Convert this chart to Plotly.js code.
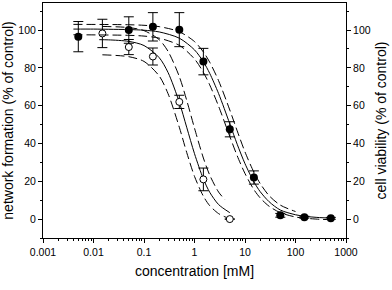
<!DOCTYPE html>
<html>
<head>
<meta charset="utf-8">
<script src="https://cdn.plot.ly/plotly-3.0.1.min.js"></script>
<style>html,body{margin:0;padding:0;background:#fff;}#chart{width:392px;height:290px;}</style>
</head>
<body>
<div id="chart"></div>
<script>
const concViability = [0.005, 0.05, 0.15, 0.5, 1.5, 5, 15, 50, 150, 500];
const viability = [96.5, 100, 101.7, 100.2, 83.3, 47.5, 22, 2, 1, 0.4];
const viabilityErr = [8, 7, 7.5, 9, 7, 4, 3.5, 1, 0.5, 0.5];

const concNetwork = [0.015, 0.05, 0.15, 0.5, 1.5, 5];
const network = [98.2, 91, 86, 62, 21, 0];
const networkErr = [7.5, 4, 4.5, 3.5, 6, 0];

// Fitted curves and confidence bands
const viabFitX = [0.004, 0.01, 0.02, 0.05, 0.1, 0.2, 0.5, 1, 1.5, 2, 3, 5, 7, 10, 15, 20, 30, 50, 100, 150, 300, 500];
const viabFitY = [100.5, 100.5, 100.4, 100.25, 99.9, 99.0, 95.7, 89.5, 83.2, 77.1, 66.4, 50.4, 39.6, 29.3, 19.7, 14.5, 9.2, 4.8, 2.3, 1.5, 0.8, 0.55];
const viabUpX = [0.004, 0.05, 0.1, 0.2, 0.5, 1, 1.5, 2, 3, 5, 7, 10, 15, 20, 30, 50, 100];
const viabUpY = [103, 102.8, 102.5, 101.8, 99.1, 93.9, 88.4, 83.0, 73.2, 57.7, 46.7, 35.5, 24.8, 18.8, 12.4, 7.4, 4.0];
const viabLoX = [0.004, 0.05, 0.1, 0.2, 0.5, 1, 1.5, 2, 3, 5, 7, 10, 15, 20, 30, 50, 100, 150, 300, 500];
const viabLoY = [97.5, 97.2, 96.8, 95.7, 91.9, 84.7, 77.6, 71.0, 59.7, 43.7, 33.5, 24.1, 15.6, 11.2, 6.8, 3.4, 1.1, 0.5, -0.1, -0.3];

const netFitX = [0.013, 0.02, 0.05, 0.1, 0.2, 0.3, 0.5, 0.7, 1, 1.5, 2, 3, 5];
const netFitY = [94.9, 94.8, 94.0, 91.8, 85.4, 77.5, 61.8, 48.6, 34.6, 21.2, 14.2, 7.7, 3.4];
const netUpX = [0.015, 0.05, 0.1, 0.2, 0.3, 0.5, 0.7, 1, 1.5, 2, 3, 4];
const netUpY = [101.9, 101.3, 99.7, 94.9, 88.7, 75.4, 62.9, 48.1, 32.3, 23.3, 14.3, 10.3];
const netLoX = [0.015, 0.05, 0.1, 0.2, 0.3, 0.5, 0.7, 1, 1.5, 2, 3, 4, 4.8];
const netLoY = [86.9, 85.9, 83.4, 75.7, 66.3, 48.6, 35.3, 22.6, 12.1, 7.1, 2.9, 1.2, 0.4];

const xTickVals = [0.001, 0.01, 0.1, 1, 10, 100, 1000];
const xTickLabels = ['0.001', '0.01', '0.1', '1', '10', '100', '1000'];

const FONT = 'Liberation Sans, Arial, sans-serif';
const solid = {color: '#000', width: 1};
const dashed = {color: '#000', width: 1, dash: '9px,4px'};

function curve(x, y, line, yaxis) {
  return {x: x, y: y, type: 'scatter', mode: 'lines', line: Object.assign({shape: 'spline', smoothing: 0.8}, line),
          yaxis: yaxis, hoverinfo: 'skip', showlegend: false};
}

const traces = [
  curve(viabFitX, viabFitY, solid, 'y2'),
  curve(viabUpX, viabUpY, dashed, 'y2'),
  curve(viabLoX, viabLoY, dashed, 'y2'),
  curve(netFitX, netFitY, solid, 'y'),
  curve(netUpX, netUpY, dashed, 'y'),
  curve(netLoX, netLoY, dashed, 'y'),
  {x: concNetwork, y: network, type: 'scatter', mode: 'markers', yaxis: 'y',
   error_y: {type: 'data', array: networkErr, visible: true, color: '#000', thickness: 1, width: 5},
   marker: {symbol: 'circle', size: 7, color: '#fff', line: {color: '#000', width: 1}}, showlegend: false},
  {x: concViability, y: viability, type: 'scatter', mode: 'markers', yaxis: 'y2',
   error_y: {type: 'data', array: viabilityErr, visible: true, color: '#000', thickness: 1, width: 5},
   marker: {symbol: 'circle', size: 8, color: '#000', line: {color: '#000', width: 0}}, showlegend: false}
];

const yCommon = {
  range: [-10, 114.3], tickvals: [0, 20, 40, 60, 80, 100], ticks: 'outside', ticklen: 4, tickwidth: 1, tickcolor: '#000',
  showgrid: false, zeroline: false, showline: true, linecolor: '#000', linewidth: 1,
  tickfont: {family: FONT, size: 10.5, color: '#000'},
  minor: {dtick: 10, tick0: 0, ticks: 'outside', ticklen: 2, tickcolor: '#000', showgrid: false}
};

const layout = {
  width: 392, height: 290,
  margin: {l: 43, r: 46, t: 3, b: 52, pad: 0},
  paper_bgcolor: '#fff', plot_bgcolor: '#fff',
  showlegend: false,
  xaxis: {
    type: 'log', range: [-3, 3], tickvals: xTickVals, ticktext: xTickLabels,
    ticks: 'outside', ticklen: 4, tickwidth: 1, tickcolor: '#000',
    showgrid: false, zeroline: false, showline: true, linecolor: '#000', linewidth: 1, mirror: true,
    tickfont: {family: FONT, size: 10.5, color: '#000'},
    minor: {dtick: 'D1', ticks: 'outside', ticklen: 2, tickcolor: '#000', showgrid: false},
    title: {text: 'concentration [mM]', font: {family: FONT, size: 14, color: '#000'}, standoff: 9}
  },
  yaxis: Object.assign({}, yCommon, {
    side: 'left',
    title: {text: 'network formation (% of control)', font: {family: FONT, size: 14, color: '#000'}, standoff: 2}
  }),
  yaxis2: Object.assign({}, yCommon, {
    side: 'right', overlaying: 'y',
    title: {text: 'cell viability (% of control)', font: {family: FONT, size: 14, color: '#000'}, standoff: 6}
  })
};

Plotly.newPlot('chart', traces, layout, {staticPlot: true, displayModeBar: false});
</script>
</body>
</html>
